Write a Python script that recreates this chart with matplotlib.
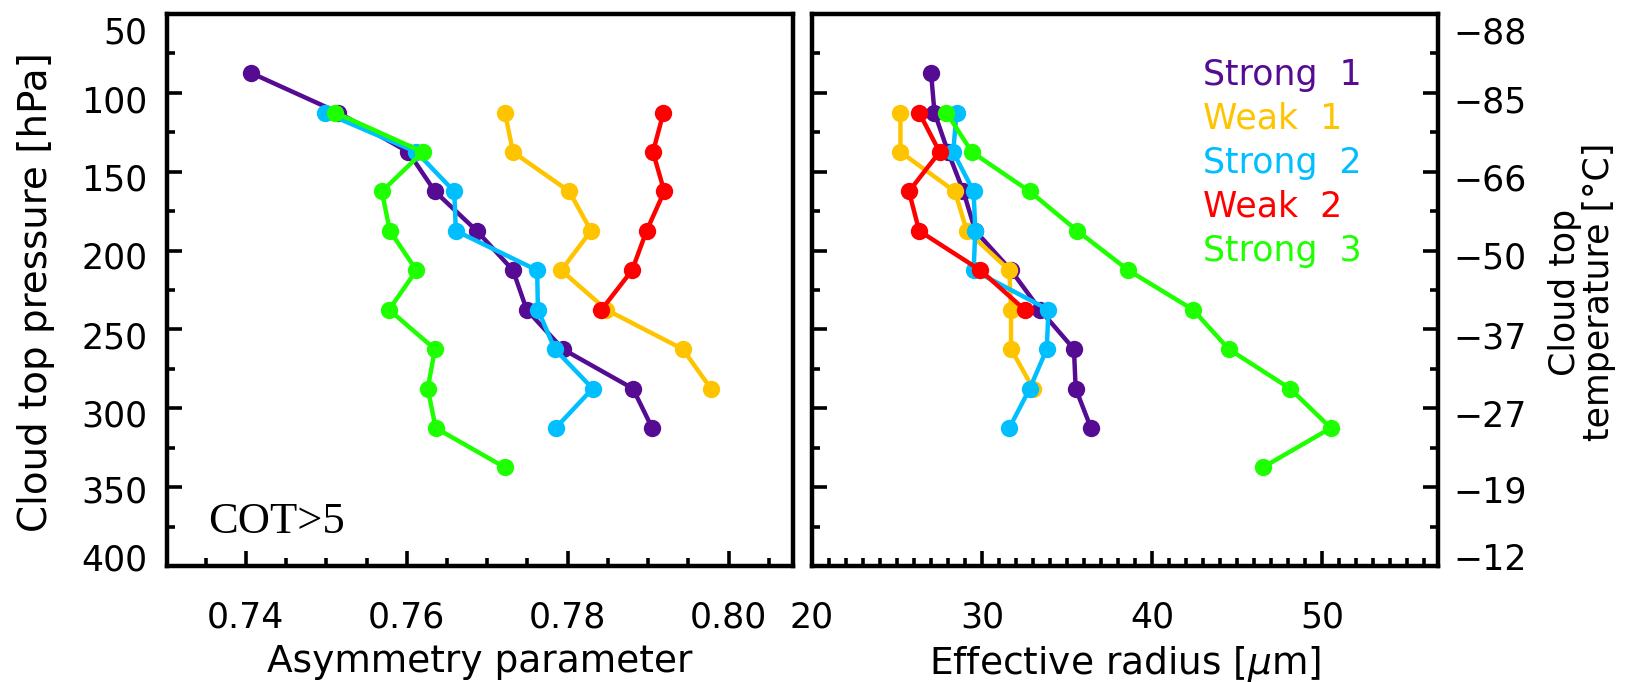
import matplotlib
matplotlib.use('Agg')
import matplotlib.pyplot as plt
from matplotlib.ticker import MultipleLocator
from matplotlib.transforms import ScaledTranslation

# cloud top pressure bin centres [hPa]
pres = [87.5, 112.5, 137.5, 162.5, 187.5, 212.5, 237.5, 262.5, 287.5, 312.5, 337.5]

names = ['Strong  1', 'Weak  1', 'Strong  2', 'Weak  2', 'Strong  3']
colors = ['#560b93', '#ffc400', '#00bfff', '#ff0000', '#1eff00']
# index of the first pressure bin of each group
start = [0, 1, 1, 1, 1]

# asymmetry parameter
g_strong1 = [0.7407, 0.7515, 0.7602, 0.7635, 0.7687, 0.7732, 0.7749, 0.7794, 0.7881, 0.7905]
g_weak1 = [0.7722, 0.7732, 0.7802, 0.7829, 0.7792, 0.7848, 0.7943, 0.7978]
g_strong2 = [0.7498, 0.7612, 0.7659, 0.7661, 0.7762, 0.7763, 0.7784, 0.7831, 0.7785]
g_weak2 = [0.7919, 0.7906, 0.7920, 0.7898, 0.7880, 0.7842]
g_strong3 = [0.7511, 0.7620, 0.7569, 0.7579, 0.7612, 0.7578, 0.7635, 0.7626, 0.7636, 0.7722]

# effective radius [um]
re_strong1 = [27.0, 27.2, 28.0, 28.9, 29.6, 31.7, 33.4, 35.4, 35.5, 36.4]
re_weak1 = [25.2, 25.2, 28.4, 29.1, 31.6, 31.7, 31.7, 33.0]
re_strong2 = [28.5, 28.3, 29.5, 29.6, 29.5, 33.9, 33.8, 32.8, 31.6]
re_weak2 = [26.3, 27.5, 25.7, 26.3, 29.9, 32.5]
re_strong3 = [27.9, 29.4, 32.8, 35.6, 38.6, 42.4, 44.5, 48.1, 50.5, 46.5]

g_all = [g_strong1, g_weak1, g_strong2, g_weak2, g_strong3]
re_all = [re_strong1, re_weak1, re_strong2, re_weak2, re_strong3]

p_ticks = [50, 100, 150, 200, 250, 300, 350, 400]
t_labels = ['\u221288', '\u221285', '\u221266', '\u221250', '\u221237', '\u221227', '\u221219', '\u221212']

plt.rcParams['font.family'] = 'DejaVu Sans'
plt.rcParams['font.size'] = 25

W, H = 1630, 682
fig = plt.figure(figsize=(W / 100, H / 100), dpi=100)
ax1 = fig.add_axes([167 / W, 1 - 566 / H, 626 / W, 552 / H])
ax2 = fig.add_axes([812 / W, 1 - 566 / H, 626 / W, 552 / H])

for ax, data in ((ax1, g_all), (ax2, re_all)):
    for vals, c, s in zip(data, colors, start):
        ax.plot(vals, pres[s:s + len(vals)], '-o', color=c, lw=3.2,
                ms=12.5, mew=0, solid_joinstyle='round')
    ax.set_ylim(400, 50)
    ax.set_yticks(p_ticks)
    ax.yaxis.set_minor_locator(MultipleLocator(25))
    for sp in ax.spines.values():
        sp.set_linewidth(3.2)
    ax.tick_params(which='both', direction='in', width=2.6, top=False)
    ax.tick_params(which='major', length=11)
    ax.tick_params(which='minor', length=5.5)
    ax.tick_params(axis='x', pad=25)

ax1.set_xlim(0.7302, 0.808)
ax1.xaxis.set_major_locator(MultipleLocator(0.02))
ax1.xaxis.set_minor_locator(MultipleLocator(0.005))
ax1.set_xticks([0.74, 0.76, 0.78, 0.80], labels=['0.74', '0.76', '0.78', '0.80'])
ax1.tick_params(axis='y', which='both', left=True, right=False, pad=14)
ax1.set_yticklabels([str(p) for p in p_ticks])

ax2.set_xlim(20, 56.8)
ax2.xaxis.set_major_locator(MultipleLocator(10))
ax2.xaxis.set_minor_locator(MultipleLocator(1))
ax2.tick_params(axis='y', which='both', left=True, right=True,
                labelleft=False, labelright=True, pad=11)
ax2.set_yticklabels(t_labels)

ax1.set_xlabel('Asymmetry parameter', fontsize=27, labelpad=7)
ax2.set_xlabel('Effective radius [$\\mu$m]', fontsize=27, labelpad=7)

# IDL-like label placement: keep end labels inside the frame
shift = [16, 6, 5, 4, 6, 5, 2, -9]
for ax, attr in ((ax1, 'label1'), (ax2, 'label2')):
    for tk, dy in zip(ax.yaxis.get_major_ticks(), shift):
        lab = getattr(tk, attr)
        lab.set_transform(lab.get_transform() +
                          ScaledTranslation(0, -dy / 100, fig.dpi_scale_trans))

fig.text(36 / W, 1 - 292 / H, 'Cloud top pressure [hPa]', rotation=90,
         ha='center', va='center', fontsize=28)
fig.text(1582 / W, 1 - 292 / H, 'Cloud top\ntemperature [\u00b0C]', rotation=90,
         ha='center', va='center', multialignment='center', linespacing=1.0)

ax1.text(0.0655, 0.0598, 'COT>5', transform=ax1.transAxes, va='baseline',
         family='Liberation Serif', fontsize=32)

for i, (nm, c) in enumerate(zip(names, colors)):
    ax2.text(0.6246, 0.8895 - i * 0.0795, nm, color=c, transform=ax2.transAxes,
             va='center', ha='left')

fig.savefig('out.png', dpi=100)
